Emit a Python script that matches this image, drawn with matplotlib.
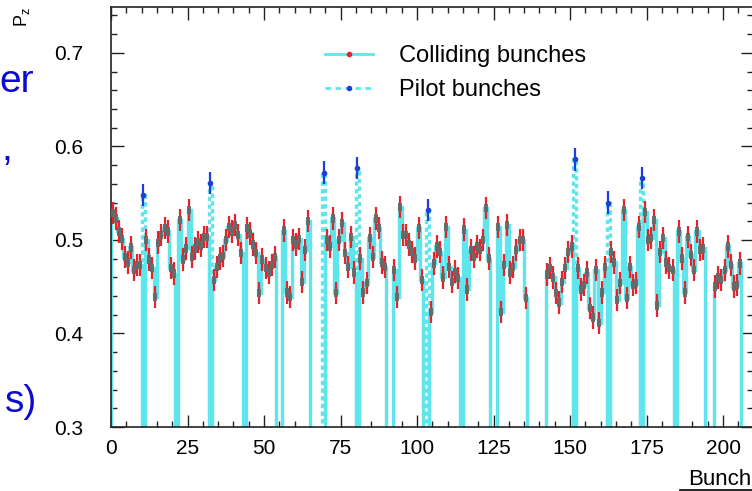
import numpy as np
import matplotlib
matplotlib.use("Agg")
import matplotlib.pyplot as plt
from matplotlib.lines import Line2D

plt.rcParams['font.family'] = ['Liberation Sans', 'DejaVu Sans']
plt.rcParams['mathtext.fontset'] = 'custom'
plt.rcParams['mathtext.rm'] = 'Liberation Sans'
plt.rcParams['mathtext.it'] = 'Liberation Sans'

# ---- polarisation per bunch (trains of colliding bunches) ----
train_first = [0, 11, 22, 33, 44, 56, 70, 81, 92, 104, 115, 126,
               142, 152, 163, 174, 185, 197]
train_pz = [
    [0.529, 0.523, 0.509, 0.501, 0.482, 0.476, 0.492, 0.468, 0.473, 0.473],
    [0.500, 0.479, 0.470, 0.439, 0.497, 0.505, 0.513, 0.509, 0.470, 0.464],
    [0.521, 0.479, 0.491, 0.532, 0.482, 0.491, 0.498, 0.494, 0.503, 0.503],
    [0.457, 0.471, 0.480, 0.483, 0.500, 0.514, 0.509, 0.516, 0.505, 0.486],
    [0.513, 0.507, 0.495, 0.486, 0.443, 0.479, 0.470, 0.465, 0.473, 0.482],
    [0.510, 0.444, 0.439, 0.500, 0.495, 0.501, 0.455, 0.489, 0.520],
    [0.500, 0.493, 0.523, 0.443, 0.500, 0.518, 0.486, 0.471, 0.503, 0.465],
    [0.480, 0.444, 0.454, 0.502, 0.482, 0.523, 0.513, 0.476, 0.471],
    [0.468, 0.439, 0.535, 0.505, 0.505, 0.495, 0.487, 0.480, 0.513, 0.457],
    [0.423, 0.475, 0.493, 0.487, 0.460, 0.514, 0.471, 0.455, 0.466, 0.459],
    [0.511, 0.447, 0.489, 0.482, 0.493, 0.489, 0.500, 0.534, 0.480],
    [0.514, 0.423, 0.473, 0.516, 0.465, 0.471, 0.489, 0.500, 0.500, 0.438],
    [0.463, 0.470, 0.460, 0.443, 0.433, 0.455, 0.470, 0.487, 0.493],
    [0.470, 0.447, 0.452, 0.465, 0.427, 0.417, 0.468, 0.411, 0.444, 0.471],
    [0.487, 0.476, 0.436, 0.454, 0.532, 0.438, 0.471, 0.452, 0.454, 0.514],
    [0.530, 0.500, 0.502, 0.521, 0.430, 0.487, 0.502, 0.476, 0.470, 0.468],
    [0.509, 0.480, 0.444, 0.503, 0.484, 0.468, 0.509, 0.489, 0.491],
    [0.450, 0.460, 0.457, 0.468, 0.493, 0.473, 0.450, 0.452, 0.475],
]
coll_err = 0.012

pilot_bunch = [10, 32, 69, 80, 103, 151, 162, 173]
pilot_pz = [0.548, 0.561, 0.572, 0.577, 0.532, 0.586, 0.540, 0.566]
pilot_err = 0.012

n_bins = 210

# per-bin histograms (empty bins stay at zero, below the visible range)
coll_hist = np.zeros(n_bins)
for first, vals in zip(train_first, train_pz):
    coll_hist[first:first + len(vals)] = vals
pilot_hist = np.zeros(n_bins)
pilot_hist[pilot_bunch] = pilot_pz
edges = np.arange(n_bins + 1)

cyan = '#5ee6ec'
red = '#e8222a'
grey = '#686868'
blue = '#1d3fd8'

fig = plt.figure(figsize=(7.52, 4.91), dpi=100)
ax = fig.add_axes([111 / 752, 64 / 491, 642 / 752, 420 / 491])

ax.stairs(coll_hist, edges, baseline=0, color=cyan, lw=2.4, zorder=2)
ax.stairs(pilot_hist, edges, baseline=0, color=cyan, lw=2.4,
          linestyle=(0, (1.3, 1.0)), zorder=2)

cx = np.nonzero(coll_hist)[0] + 0.5
cy = coll_hist[coll_hist > 0]
ax.errorbar(cx, cy, yerr=coll_err, fmt='none', ecolor=red, elinewidth=1.6, zorder=3)
ax.errorbar(cx, cy, yerr=0.0045, fmt='none', ecolor=grey, elinewidth=2.8, zorder=4)

px = np.array(pilot_bunch) + 0.5
ax.errorbar(px, pilot_pz, yerr=pilot_err, fmt='none', ecolor=blue, elinewidth=1.6, zorder=3)
ax.plot(px, pilot_pz, 'o', ms=3, color=blue, zorder=4)

ax.set_xlim(0, 209.8)
ax.set_ylim(0.3, 0.749)
ax.set_xticks(np.arange(0, 201, 25))
ax.set_xticks(np.arange(0, 210, 5), minor=True)
ax.set_yticks([0.3, 0.4, 0.5, 0.6, 0.7])
ax.set_yticklabels(['0.3', '0.4', '0.5', '0.6', '0.7'])
ax.set_yticks(np.arange(0.3, 0.75, 0.02), minor=True)
ax.tick_params(which='both', direction='in', top=True, right=True,
               width=1.0, color='#222222', labelsize=15)
ax.tick_params(which='major', length=9)
ax.tick_params(which='minor', length=4.5)
ax.tick_params(axis='x', pad=9)
ax.tick_params(axis='y', pad=20)
for s in ax.spines.values():
    s.set_linewidth(1.2)
    s.set_color('#222222')

handles = [
    Line2D([], [], color=cyan, lw=2, marker='o', ms=3, mfc=red, mec=red),
    Line2D([], [], color=cyan, lw=2, linestyle=(0, (2.0, 1.6)), marker='o',
           ms=3, mfc=blue, mec=blue),
]
ax.legend(handles, ['Colliding bunches', 'Pilot bunches'], loc='upper left',
          bbox_to_anchor=(0.334, 0.91), frameon=False, fontsize=17,
          handlelength=2.0, handletextpad=1.1, labelspacing=0.52,
          borderpad=0, borderaxespad=0, numpoints=1)

# axis titles
fig.text(22 / 752, 1 - 7 / 491, r'P$_{\rm z}$', rotation=90, ha='center',
         va='top', fontsize=13)
fig.text(688 / 752, 1 - 485 / 491, 'Bunch', ha='left', va='baseline',
         fontsize=16)
fig.add_artist(Line2D([680 / 752, 1.0], [1 - 489.5 / 491] * 2,
                      color='black', lw=1.2))

# slide text at the left edge
slide_blue = '#0b0bd2'
fig.text(34 / 752, 1 - 92 / 491, 'er', ha='right', va='baseline',
         fontsize=28, color=slide_blue)
fig.text(1 / 752, 1 - 160 / 491, ',', ha='left', va='baseline',
         fontsize=28, color=slide_blue)
fig.text(37 / 752, 1 - 412 / 491, 's)', ha='right', va='baseline',
         fontsize=28, color=slide_blue)

fig.savefig('out.png', dpi=100, facecolor='white')
